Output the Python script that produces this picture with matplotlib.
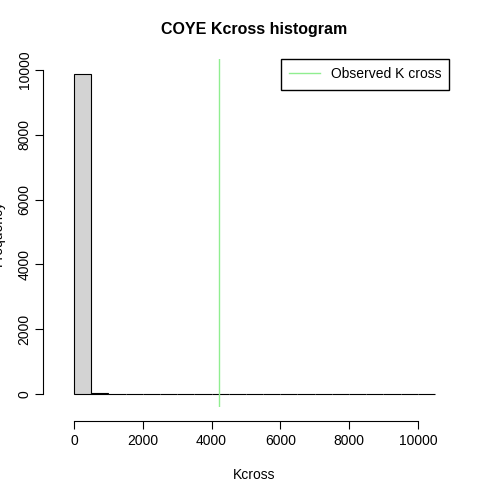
import matplotlib.pyplot as plt
import numpy as np

plt.rcParams['font.family'] = ['Liberation Sans', 'DejaVu Sans']

bin_edges = np.arange(0, 10501, 500)
counts = [9880, 45, 12, 6, 4, 3, 5, 2, 3, 2, 2, 1, 2, 1, 1, 1, 1, 1, 1, 1, 1]
observed = 4220

fig = plt.figure(figsize=(4.8, 4.8), dpi=100)
ax = fig.add_axes([59.5 / 480, 73 / 480, 390 / 480, 348 / 480])
ax.bar(bin_edges[:-1], counts, width=500, align='edge', color='#d3d3d3',
       edgecolor='black', linewidth=0.8)
ax.axvline(observed, color='#90ee90', linewidth=1)
ax.set_xlim(-420, 10920)
ax.set_ylim(-397, 10335)

for s in ['top', 'right']:
    ax.spines[s].set_visible(False)
ax.spines['left'].set_position(('outward', 12))
ax.spines['bottom'].set_position(('outward', 10))
ax.spines['left'].set_bounds(0, 10000)
ax.spines['bottom'].set_bounds(0, 10000)
ax.set_xticks(range(0, 10001, 2000))
ax.set_yticks(range(0, 10001, 2000))
ax.set_yticklabels([str(v) for v in range(0, 10001, 2000)], rotation=90, va='center')
ax.tick_params(labelsize=10, length=6)
ax.tick_params(axis='y', pad=2)

ax.set_xlabel('Kcross', fontsize=10, labelpad=14)
ax.set_ylabel('Frequency', fontsize=10, labelpad=14)
ax.yaxis.set_label_coords(-0.14, 0.5)
ax.set_title('COYE Kcross histogram', fontsize=11.5, fontweight='bold', pad=18)

ax.legend([plt.Line2D([], [], color='#90ee90', lw=1)], ['Observed K cross'],
          loc='upper right', fontsize=10, fancybox=False, edgecolor='black',
          borderaxespad=0, handlelength=2.2, framealpha=1, borderpad=0.6)

fig.savefig('out.png')
